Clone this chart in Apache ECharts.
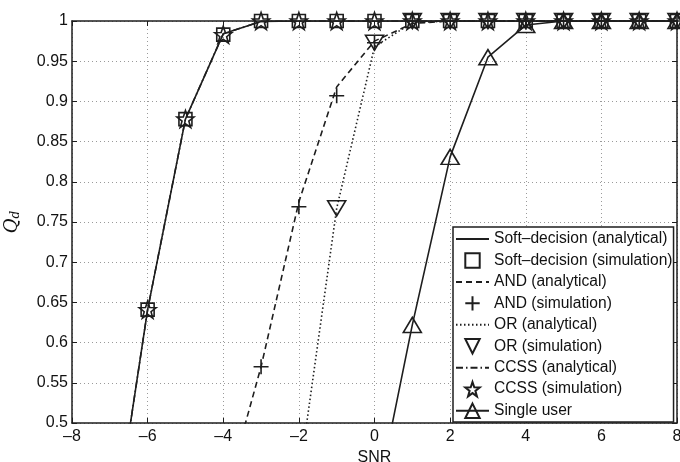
<!DOCTYPE html>
<html>
<head>
<meta charset="utf-8">
<script src="https://cdn.jsdelivr.net/npm/echarts@6/dist/echarts.min.js"></script>
<style>html,body{margin:0;padding:0;background:#fff}#c{width:680px;height:462px}</style>
</head>
<body>
<div id="c"></div>
<script>
// ---- data ----
const snr = [-8,-7,-6,-5,-4,-3,-2,-1,0,1,2,3,4,5,6,7,8];
const softAnalytical = [null,0.33,0.641,0.878,0.984,0.9995,1,1,1,1,1,1,1,1,1,1,1];
const softSimulation = [null,null,0.641,0.878,0.983,1,1,1,1,1,1,1,1,1,1,1,1];
const andAnalytical  = [null,null,null,null,0.40,0.57,0.775,0.918,0.975,0.997,1,1,1,1,1,1,1];
const andSimulation  = [null,null,null,null,null,0.57,0.769,0.907,0.973,1,1,1,1,1,1,1,1];
const orAnalytical   = [null,null,null,null,null,null,0.43,0.767,0.968,0.998,1,1,1,1,1,1,1];
const orSimulation   = [null,null,null,null,null,null,null,0.767,0.973,1,1,1,1,1,1,1,1];
const ccssAnalytical = [null,0.33,0.641,0.878,0.984,0.9995,1,1,1,1,1,1,1,1,1,1,1];
const ccssSimulation = [null,null,0.641,0.878,0.983,1,1,1,1,1,1,1,1,1,1,1,1];
const singleUser     = [null,null,null,null,null,null,null,null,0.39,0.622,0.831,0.955,0.995,1,1,1,1];
const xTicks = [-8,-6,-4,-2,0,2,4,6,8];
const yTicks = [0.5,0.55,0.6,0.65,0.7,0.75,0.8,0.85,0.9,0.95,1];
const names = ['Soft\u2013decision (analytical)','Soft\u2013decision (simulation)','AND (analytical)','AND (simulation)','OR (analytical)','OR (simulation)','CCSS (analytical)','CCSS (simulation)','Single user'];

// ---- chart ----
const ink = '#1e1e1e';
const pairs = arr => snr.map((x,i)=>[x,arr[i]]).filter(p=>p[1]!==null);
const plusPath = 'path://M0,-10L0,10M-10,0L10,0';
const starPath = 'path://M0,-10L2.35,-3.24L9.51,-3.09L3.8,1.24L5.88,8.09L0,4L-5.88,8.09L-3.8,1.24L-9.51,-3.09L-2.35,-3.24Z';

function analytic(name, arr, type) {
  return {name, type:'line', data:pairs(arr), symbol:'none', clip:true,
    lineStyle:{color:ink, width:1.6, type}, itemStyle:{color:ink}, z:3, animation:false};
}
function sim(name, arr, symbol, size, rot) {
  return {name, type:'line', data:pairs(arr), symbol, symbolSize:size, symbolRotate:rot||0,
    showAllSymbol:true, clip:true,
    lineStyle:{color:ink, width:0}, itemStyle:{color:'transparent', borderColor:ink, borderWidth:1.6}, z:4, animation:false};
}

const series = [
  analytic(names[0], softAnalytical, 'solid'),
  sim(names[1], softSimulation, 'rect', 13),
  analytic(names[2], andAnalytical, [6,4]),
  sim(names[3], andSimulation, plusPath, 15),
  analytic(names[4], orAnalytical, [1.5,2.5]),
  sim(names[5], orSimulation, 'triangle', [18,15], 180),
  analytic(names[6], ccssAnalytical, [7,3,1.5,3]),
  sim(names[7], ccssSimulation, starPath, 17),
  {name:names[8], type:'line', data:pairs(singleUser), symbol:'triangle', symbolSize:[18,15],
    showAllSymbol:true, clip:true, lineStyle:{color:ink, width:1.6},
    itemStyle:{color:'transparent', borderColor:ink, borderWidth:1.6}, z:5, animation:false}
];

const hidden = {color:'transparent', borderColor:'transparent', borderWidth:0, opacity:0};
const legendData = names.map((n,i)=> (i%2===0 && i<8) ? {name:n, itemStyle:hidden} : {name:n});

const font = 'Liberation Sans, Arial, Helvetica, sans-serif';
const chart = echarts.init(document.getElementById('c'), null, {renderer:'canvas'});
chart.setOption({
  backgroundColor:'#fff',
  animation:false,
  grid:{left:72, right:3, top:21, bottom:39, containLabel:false, outerBoundsMode:'none'},
  legend:{
    data:legendData, orient:'vertical', left:453, top:227,
    padding:[4,1,3,2], itemWidth:33, itemHeight:18, itemGap:5.25,
    backgroundColor:'#fff', borderColor:ink, borderWidth:1.5, borderRadius:0,
    textStyle:{fontFamily:font, fontSize:15.6, color:'#111'},
    selectedMode:false, z:10
  },
  xAxis:[
    {type:'value', min:-8, max:8, interval:2, position:'bottom',
      name:'SNR', nameLocation:'middle', nameGap:25,
      nameTextStyle:{fontFamily:font, fontSize:16, color:'#111'},
      axisLine:{show:true, onZero:false, lineStyle:{color:ink, width:1.5}},
      axisTick:{show:true, inside:true, length:5, lineStyle:{color:ink, width:1}},
      axisLabel:{margin:6, fontFamily:font, fontSize:16, color:'#111',
        formatter:v=> xTicks.includes(v) ? (v<0 ? '\u2013'+(-v) : String(v)) : ''},
      splitLine:{show:true, lineStyle:{color:'#9a9a9a', width:1, type:[1,3]}}},
    {type:'value', min:-8, max:8, interval:2, position:'top',
      axisLine:{show:true, onZero:false, lineStyle:{color:ink, width:1.5}},
      axisTick:{show:true, inside:true, length:5, lineStyle:{color:ink, width:1}},
      axisLabel:{show:false}, splitLine:{show:false}}
  ],
  yAxis:[
    {type:'value', min:0.5, max:1, interval:0.05, position:'left',
      name:'{q|Q}{d|d}', nameLocation:'middle', nameGap:50, nameRotate:90,
      nameTextStyle:{rich:{
        q:{fontFamily:'DejaVu Serif', fontStyle:'italic', fontSize:18, color:'#111'},
        d:{fontFamily:'DejaVu Serif', fontStyle:'italic', fontSize:12, color:'#111', padding:[8,0,0,0]}}},
      axisLine:{show:true, onZero:false, lineStyle:{color:ink, width:1.5}},
      axisTick:{show:true, inside:true, length:5, lineStyle:{color:ink, width:1}},
      axisLabel:{margin:4, fontFamily:font, fontSize:16, color:'#111',
        formatter:v=>{const t=yTicks.find(k=>Math.abs(k-v)<1e-9); return t===undefined?'':String(t);}},
      splitLine:{show:true, lineStyle:{color:'#9a9a9a', width:1, type:[1,3]}}},
    {type:'value', min:0.5, max:1, interval:0.05, position:'right',
      axisLine:{show:true, onZero:false, lineStyle:{color:ink, width:1.5}},
      axisTick:{show:true, inside:true, length:5, lineStyle:{color:ink, width:1}},
      axisLabel:{show:false}, splitLine:{show:false}}
  ],
  series
});
</script>
</body>
</html>
